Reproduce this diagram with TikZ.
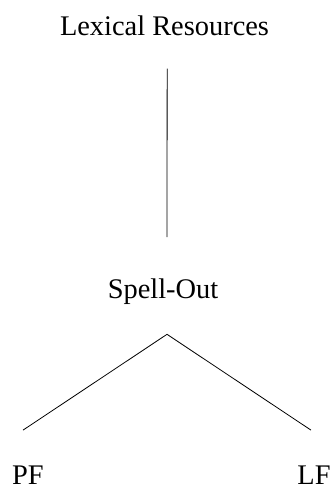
\documentclass[tikz,border=0pt]{standalone}
\usepackage{fontspec}
\setmainfont{Liberation Serif}
\usepackage{tikz}
\tikzset{
  levelnode/.style={inner sep=0pt, anchor=base, font=\fontsize{21.3}{25}\selectfont},
  link/.style={line width=0.6pt, black}
}

\begin{document}
\begin{tikzpicture}[x=0.75pt, y=-0.75pt]
  \useasboundingbox (0,0) rectangle (333,491);
  \node[levelnode] (lex)   at (164.5,36) {Lexical Resources};
  \node[levelnode] (spell) at (163,298)  {Spell-Out};
  \node[levelnode] (pf)    at (28,484)   {PF};
  \node[levelnode] (lf)    at (314,484)  {LF};
  \draw[link] ([xshift=2pt,yshift=-24pt]lex.south) -- ([xshift=3pt,yshift=30.75pt]spell.north);
  \draw[link] ([xshift=3pt,yshift=-22.5pt]spell.south) -- ([xshift=-3.75pt,yshift=26.25pt]pf.north);
  \draw[link] ([xshift=3pt,yshift=-22.5pt]spell.south) -- ([xshift=-2.25pt,yshift=26.25pt]lf.north);
\end{tikzpicture}
\end{document}
